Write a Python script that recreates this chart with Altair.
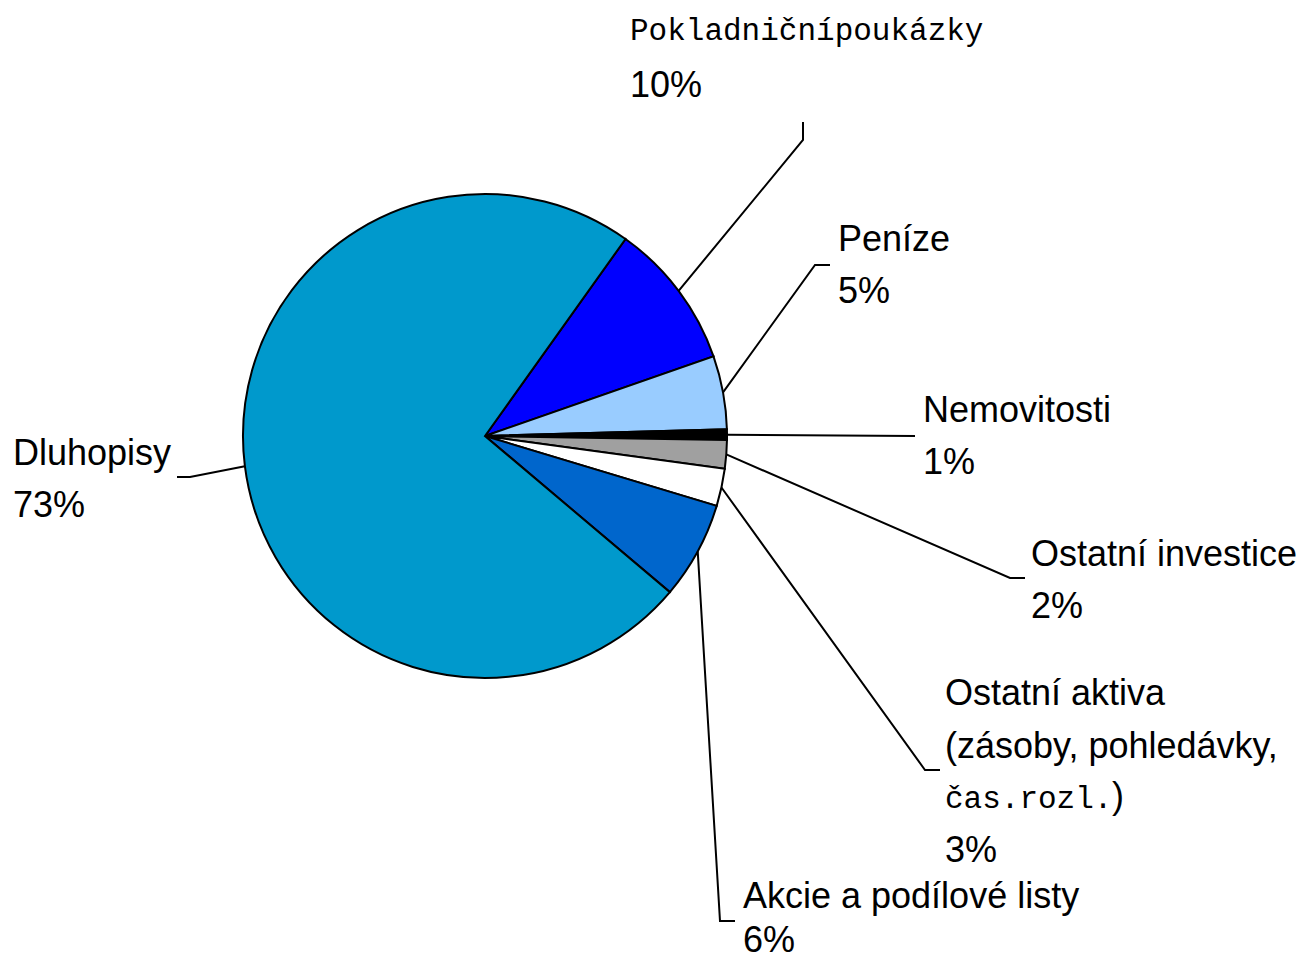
import math
import altair as alt
import pandas as pd

# ---------------- data ----------------
categories = ["Pokladniční poukázky", "Peníze", "Nemovitosti", "Ostatní investice",
              "Ostatní aktiva", "Akcie a podílové listy", "Dluhopisy"]
values = [9.8, 4.9, 0.7, 1.9, 2.5, 6.5, 73.7]
pct_labels = ["10%", "5%", "1%", "2%", "3%", "6%", "73%"]
colors = ["#0000FF", "#99CCFF", "#000000", "#A0A0A0", "#FFFFFF", "#0066CC", "#0099CC"]

# ---------------- layout (page pixels) ----------------
OFF = 8
W, H = 1294, 953
CX, CY, R = 485, 436, 242
START_DEG = 35.5

# label text lines: (category index, text, x, baseline y, mono?)
label_lines = [
    (0, "Pokladničnípoukázky", 630, 40, True),
    (0, pct_labels[0], 630, 97, False),
    (1, "Peníze", 838, 251, False),
    (1, pct_labels[1], 838, 303, False),
    (2, "Nemovitosti", 923, 422, False),
    (2, pct_labels[2], 923, 474, False),
    (3, "Ostatní investice", 1031, 566, False),
    (3, pct_labels[3], 1031, 618, False),
    (4, "Ostatní aktiva", 945, 705, False),
    (4, "(zásoby, pohledávky,", 945, 758, False),
    (4, "čas.rozl.", 945, 808, True),
    (4, ")", 1112, 808, False),
    (4, pct_labels[4], 945, 862, False),
    (5, "Akcie a podílové listy", 743, 908, False),
    (5, pct_labels[5], 743, 952, False),
    (6, "Dluhopisy", 13, 465, False),
    (6, pct_labels[6], 13, 517, False),
]

# leader line elbow and end points per category
leader_pts = [
    [(803, 140), (803, 122)],
    [(815, 265), (830, 265)],
    [(915, 436), (915, 436)],
    [(1010, 578), (1025, 578)],
    [(925, 770), (940, 770)],
    [(720, 921), (735, 921)],
    [(190, 477), (177, 477)],
]

# ---------------- build tables ----------------
pie_df = pd.DataFrame({"cat": categories, "value": values,
                       "order": list(range(len(categories)))})

total = sum(values)
rows = []
cum = 0.0
for i, (c, v) in enumerate(zip(categories, values)):
    mid = math.radians(START_DEG + 360.0 * (cum + v / 2) / total)
    cum += v
    sx = CX + R * math.sin(mid)
    sy = CY - R * math.cos(mid)
    pts = [(sx, sy)] + leader_pts[i]
    for k, (px, py) in enumerate(pts):
        rows.append({"cat": c, "k": k, "x": px - OFF, "y": py - OFF})
lines_df = pd.DataFrame(rows)

text_df = pd.DataFrame([{"text": t, "x": x - OFF, "y": y - OFF, "mono": m}
                        for (_, t, x, y, m) in label_lines])

xs = alt.Scale(domain=[0, W], nice=False, zero=False)
ys = alt.Scale(domain=[0, H], range=[0, H], nice=False, zero=False)

s = math.radians(START_DEG)
pie = alt.Chart(pie_df).mark_arc(radius=R, stroke="black", strokeWidth=2).encode(
    theta=alt.Theta("value:Q", stack=True, scale=alt.Scale(range=[s, s + 2 * math.pi])),
    order=alt.Order("order:Q"),
    color=alt.Color("cat:N", scale=alt.Scale(domain=categories, range=colors), legend=None),
    x=alt.value(CX - OFF),
    y=alt.value(CY - OFF),
)

leaders = alt.Chart(lines_df).mark_line(color="black", strokeWidth=2).encode(
    x=alt.X("x:Q", scale=xs, axis=None),
    y=alt.Y("y:Q", scale=ys, axis=None),
    detail="cat:N",
    order="k:Q",
)

sans = alt.Chart(text_df[~text_df["mono"]]).mark_text(
    font="Liberation Sans", fontSize=36, align="left", baseline="alphabetic", color="black"
).encode(x=alt.X("x:Q", scale=xs, axis=None), y=alt.Y("y:Q", scale=ys, axis=None), text="text:N")

mono = alt.Chart(text_df[text_df["mono"]]).mark_text(
    font="Liberation Mono", fontSize=31, align="left", baseline="alphabetic", color="black"
).encode(x=alt.X("x:Q", scale=xs, axis=None), y=alt.Y("y:Q", scale=ys, axis=None), text="text:N")

chart = alt.layer(pie, leaders, sans, mono).properties(
    width=W, height=H, padding=0, autosize=alt.AutoSizeParams(type="none")
).configure_view(stroke=None)

chart.save("out.html", embed_options={"renderer": "svg", "actions": False})
